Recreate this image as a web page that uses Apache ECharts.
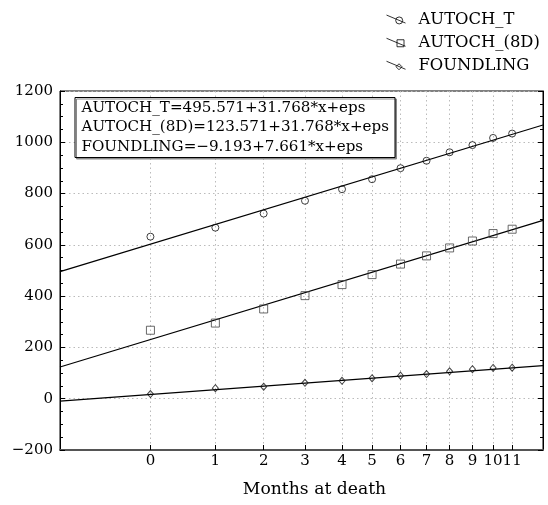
<!DOCTYPE html>
<html>
<head>
<meta charset="utf-8">
<script src="https://cdn.jsdelivr.net/npm/echarts@6/dist/echarts.min.js"></script>
<style>
html,body{margin:0;padding:0;background:#fff;}
#chart{width:548px;height:505px;}
</style>
</head>
<body>
<div id="chart"></div>
<script>
// ---- data ----
const monthLabels = ['0','1','2','3','4','5','6','7','8','9','10','11'];
// axis position (transformed x scale) of each month tick
const monthPos = [3.37, 5.79, 7.59, 9.13, 10.51, 11.63, 12.69, 13.66, 14.52, 15.37, 16.14, 16.85];
const autochT  = [632, 667, 722, 772, 817, 856, 899, 928, 961, 989, 1017, 1034];
const autoch8D = [267, 295, 350, 402, 445, 484, 525, 557, 588, 615, 644, 661];
const foundling = [18, 41, 47, 62, 70, 80, 90, 96, 107, 115, 120, 121];
const seriesNames = ['AUTOCH_T', 'AUTOCH_(8D)', 'FOUNDLING'];
const fitIntercept = [495.571, 123.571, -9.193];
const fitSlope = [31.768, 31.768, 7.661];
const equations = [
  'AUTOCH_T=495.571+31.768*x+eps',
  'AUTOCH_(8D)=123.571+31.768*x+eps',
  'FOUNDLING=\u22129.193+7.661*x+eps'
];
const xName = 'Months at death';

const FONT = 'DejaVu Serif';
const seriesData = [autochT, autoch8D, foundling];
const symbols = ['circle', 'rect', 'diamond'];
const symbolSizes = [7, 8, [6, 7]];
const symColors = ['#111', '#444', '#111'];
const legendIcons = [
  'path://M0,0L19,8M9.2,5.4a3.5,3.5 0 1,0 7,0a3.5,3.5 0 1,0 -7,0',
  'path://M0,0L19,8M10.5,1.5h7v7h-7z',
  'path://M0,0L19,8M12.5,2.5l3,3l-3,3l-3,-3z'
];

const series = [];
seriesNames.forEach((name, i) => {
  series.push({
    name: name,
    type: 'scatter',
    data: seriesData[i].map((v, k) => [monthPos[k], v]),
    symbol: symbols[i],
    symbolSize: symbolSizes[i],
    itemStyle: {color: 'rgba(0,0,0,0)', borderColor: symColors[i], borderWidth: 1},
    z: 3,
    silent: true
  });
  series.push({
    name: name + ' fit',
    type: 'line',
    data: [[0, fitIntercept[i]], [18, fitIntercept[i] + 18 * fitSlope[i]]],
    symbol: 'none',
    lineStyle: {color: '#000', width: 1.2},
    z: 2,
    silent: true,
    clip: true
  });
});

const chart = echarts.init(document.getElementById('chart'), null, {renderer: 'canvas'});
chart.setOption({
  animation: false,
  backgroundColor: '#fff',
  title: {
    text: equations.join('\n'),
    left: 75, top: 97,
    padding: [1, 6, 1, 6.5],
    borderColor: '#000', borderWidth: 1,
    shadowColor: '#888', shadowOffsetX: 1.5, shadowOffsetY: 1.5, shadowBlur: 0,
    backgroundColor: '#fff',
    textStyle: {fontFamily: FONT, fontSize: 15.1, fontWeight: 'normal', color: '#000', lineHeight: 19.5}
  },
  legend: {
    orient: 'vertical',
    left: 381, top: 6.5,
    itemWidth: 19, itemHeight: 9,
    itemGap: 7,
    textStyle: {fontFamily: FONT, fontSize: 16.4, color: '#000', padding: [0, 0, 0, 8]},
    data: seriesNames.map((n, i) => ({
      name: n,
      icon: legendIcons[i],
      itemStyle: {color: 'rgba(0,0,0,0)', borderColor: '#000', borderWidth: 1}
    }))
  },
  grid: {
    left: 60, right: 5, top: 91, bottom: 55,
    show: true, borderColor: '#000', borderWidth: 1, backgroundColor: '#fff'
  },
  xAxis: {
    type: 'value', min: 0, max: 18, interval: 2,
    name: xName, nameLocation: 'middle', nameGap: 31.5,
    nameTextStyle: {fontFamily: FONT, fontSize: 17.2, color: '#000', padding: [0, 0, 0, 26]},
    axisLine: {show: true, onZero: false, lineStyle: {color: '#555', width: 2}},
    axisTick: {show: true, inside: true, length: 5, customValues: monthPos, lineStyle: {color: '#000'}},
    axisLabel: {
      show: true, customValues: monthPos, margin: 4,
      fontFamily: FONT, fontSize: 15, color: '#000',
      formatter: v => {
        const k = monthPos.indexOf(v);
        return k >= 0 ? monthLabels[k] : '';
      }
    },
    splitLine: {show: true, lineStyle: {color: '#bbb', type: [1.5, 3], width: 1}}
  },
  yAxis: [{
    type: 'value', min: -200, max: 1200, interval: 200,
    axisLine: {show: true, lineStyle: {color: '#000', width: 1}},
    axisTick: {show: true, inside: true, length: 5, lineStyle: {color: '#000'}},
    minorTick: {show: true, splitNumber: 4, length: 3, lineStyle: {color: '#000'}},
    axisLabel: {
      fontFamily: FONT, fontSize: 15, color: '#000', margin: 7,
      formatter: v => v < 0 ? '\u2212' + Math.abs(v) : String(v)
    },
    splitLine: {show: true, lineStyle: {color: '#bbb', type: [1.5, 3], width: 1}}
  }, {
    type: 'value', min: -200, max: 1200, interval: 200, position: 'right',
    axisLine: {show: true, lineStyle: {color: '#000', width: 1}},
    axisTick: {show: true, inside: true, length: 5, lineStyle: {color: '#000'}},
    minorTick: {show: true, splitNumber: 4, length: 3, lineStyle: {color: '#000'}},
    axisLabel: {show: false},
    splitLine: {show: false}
  }],
  series: series
});
</script>
</body>
</html>
